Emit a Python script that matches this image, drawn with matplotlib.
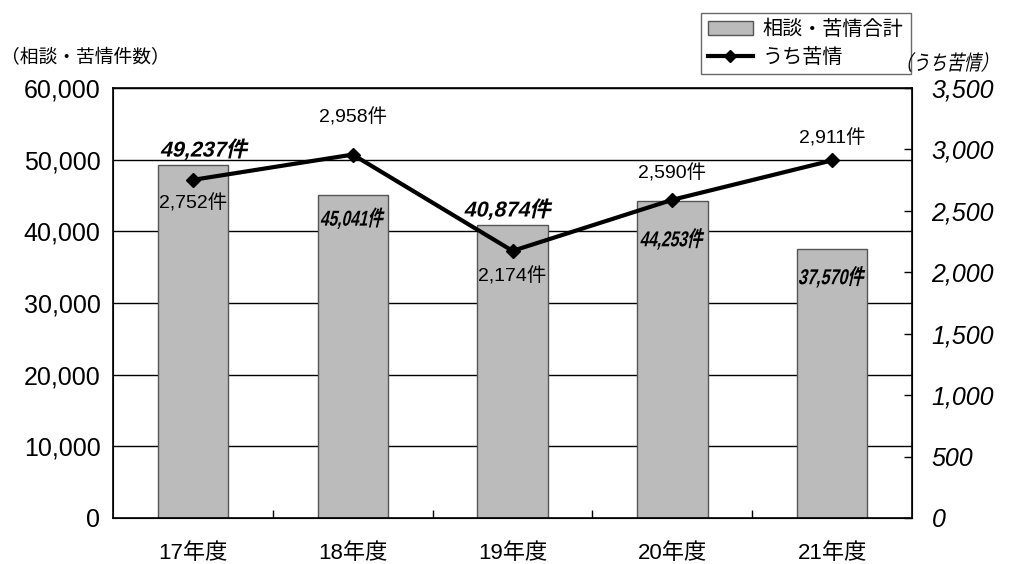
import matplotlib
matplotlib.use('Agg')
import matplotlib.pyplot as plt
from matplotlib.lines import Line2D
from matplotlib.patches import Patch, PathPatch
from matplotlib.textpath import TextPath
from matplotlib.font_manager import FontProperties
from matplotlib.transforms import Affine2D, IdentityTransform

FAM = ['Liberation Sans', 'Noto Sans CJK JP']
plt.rcParams['font.family'] = FAM

years = ['17年度', '18年度', '19年度', '20年度', '21年度']
total = [49237, 45041, 40874, 44253, 37570]
complaints = [2752, 2958, 2174, 2590, 2911]

# label placement: bar labels in pixels from bar top, line labels in points
bar_lab_dy = [16, -23, 16, -38, -28]
bar_lab_dx = [12, 0, -4, 0, 0]
bar_lab_xscale = [1.0, 0.72, 1.0, 0.72, 0.75]
line_lab_dy = [-17, 27, -18, 19, 16]

DPI = 100
fig = plt.figure(figsize=(10.18, 5.64), dpi=DPI)
ax = fig.add_axes([0.111, 0.0816, 0.785, 0.7624])
ax2 = ax.twinx()


def slanted(xd, yd, s, pt, weight='normal', xscale=1.0, ha='center'):
    """Draw pseudo-italic text (CJK fonts have no italic) at display coords."""
    prop = FontProperties(family=FAM, weight=weight)
    tp = TextPath((0, 0), s, size=pt * DPI / 72, prop=prop)
    ext = tp.get_extents()
    cx = (ext.x0 + ext.x1) / 2 if ha == 'center' else ext.x0
    cy = (ext.y0 + ext.y1) / 2
    tr = Affine2D().translate(-cx, -cy).scale(xscale, 1).skew_deg(13, 0).translate(xd, yd)
    fig.add_artist(PathPatch(tp, transform=tr + IdentityTransform(),
                             facecolor='black', edgecolor='none', zorder=10))


x = list(range(len(years)))
ax.bar(x, total, width=0.44, color='#bbbbbb', edgecolor='#555555', linewidth=1.0, zorder=2)
ax.set_ylim(0, 60000)
ax.set_xlim(-0.5, len(years) - 0.5)
ax.set_yticks(range(0, 60001, 10000))
ax.set_yticklabels([f'{v:,}' for v in range(0, 60001, 10000)], fontsize=18)
for v in range(10000, 60001, 10000):
    ax.axhline(v, color='black', linewidth=1.0, zorder=1)
ax.set_xticks(x)
ax.set_xticklabels(years, fontsize=16)
ax.set_xticks([i + 0.5 for i in range(len(years) - 1)], minor=True)
ax.tick_params(axis='x', which='major', length=0, pad=18)
ax.tick_params(axis='x', which='minor', direction='in', length=6, width=1)
ax.tick_params(axis='y', length=0, pad=9)
for s in ax.spines.values():
    s.set_linewidth(1.2)

ax2.plot(x, complaints, color='black', linewidth=3, marker='D', markersize=7, zorder=5)
ax2.set_ylim(0, 3500)
ax2.set_yticks(range(0, 3501, 500))
ax2.set_yticklabels([f'{v:,}' for v in range(0, 3501, 500)], fontsize=18, style='italic')
ax2.tick_params(axis='y', direction='in', length=6, width=1, pad=14)
ax.set_zorder(1)
ax2.set_zorder(2)
ax2.patch.set_visible(False)

for i, v in enumerate(total):
    xd, yd = ax.transData.transform((i, v))
    slanted(xd + bar_lab_dx[i], yd + bar_lab_dy[i], f'{v:,}件', 15.5,
            weight='bold', xscale=bar_lab_xscale[i])
for i, v in enumerate(complaints):
    ax2.annotate(f'{v:,}件', xy=(i, v), xytext=(0, line_lab_dy[i]), textcoords='offset points',
                 ha='center', va='center', fontsize=14)

fig.text(0.001, 0.897, '（相談・苦情件数）', fontsize=13.5, ha='left', va='center')
slanted(909, 564 - 62, '（うち苦情）', 15, xscale=0.82, ha='left')

handles = [Patch(facecolor='#bbbbbb', edgecolor='#555555', label='相談・苦情合計'),
           Line2D([0], [0], color='black', linewidth=3, marker='D', markersize=6, label='うち苦情')]
fig.legend(handles=handles, loc='upper left', bbox_to_anchor=(0.679, 0.995), fontsize=14.5,
           frameon=True, fancybox=False, edgecolor='#444444', handlelength=2.2,
           borderpad=0.35, labelspacing=0.45, handletextpad=0.5)

fig.savefig('out.png', dpi=DPI)
